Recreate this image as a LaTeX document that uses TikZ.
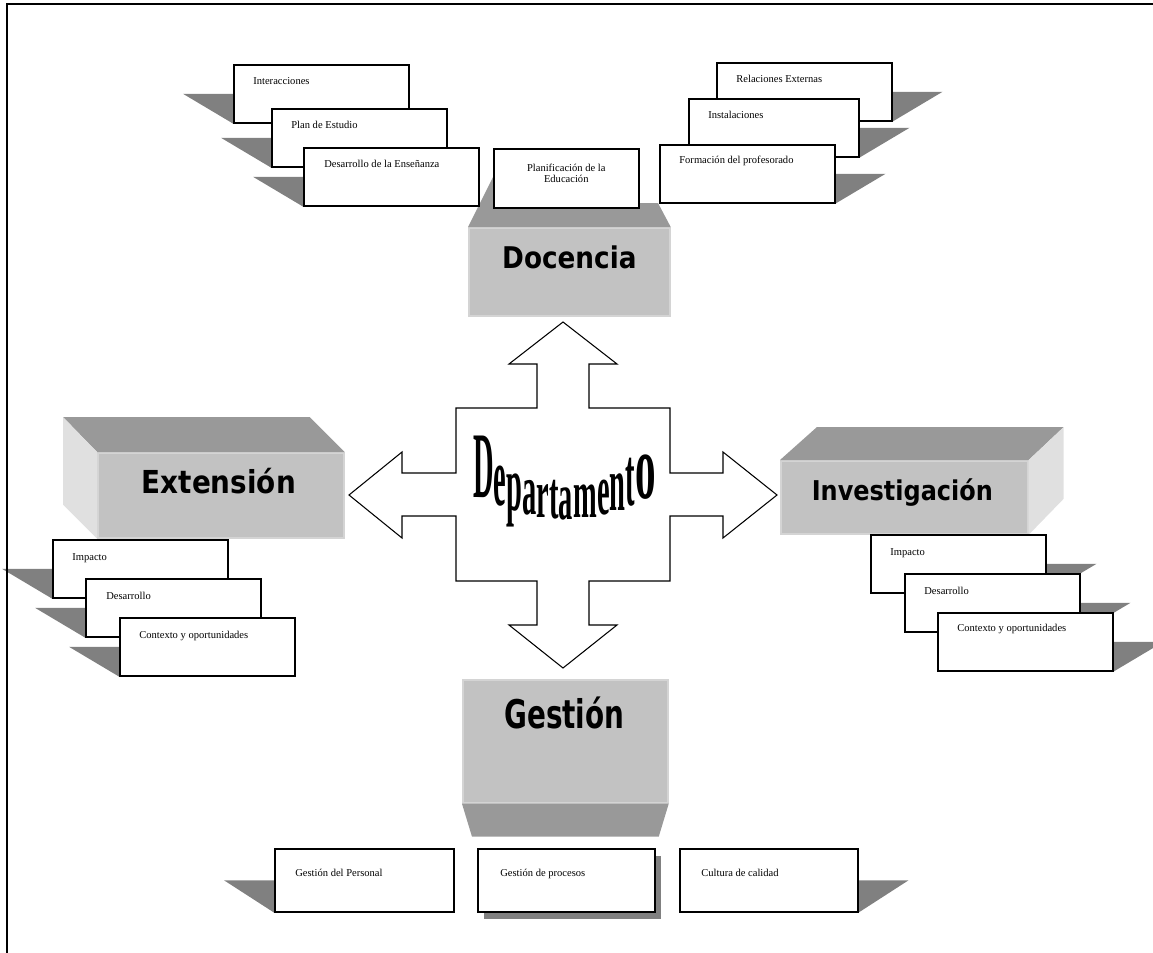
\documentclass[tikz,border=0pt]{standalone}
\usepackage{fontspec}
\usetikzlibrary{calc,backgrounds,shadows}

\newfontfamily\itemfont{Liberation Serif}
\newfontfamily\deptfont{Liberation Serif}
\newfontfamily\blockfont{DejaVu Sans}[FakeStretch=0.88]

\definecolor{facegray}{RGB}{194,194,194}
\definecolor{topgray}{RGB}{153,153,153}
\definecolor{sidegray}{RGB}{224,224,224}
\definecolor{edgegray}{RGB}{212,212,212}
\definecolor{shadegray}{RGB}{128,128,128}

\tikzset{
  item/.style={draw, line width=0.9pt, fill=white, anchor=north west, inner sep=0pt,
    minimum width=3.5cm, minimum height=1.16cm},
  itemtext/.style={anchor=base west, inner sep=0pt, font=\itemfont\fontsize{6}{6.5}\selectfont},
  front/.style={fill=facegray, draw=edgegray, line width=1pt, anchor=north west, inner sep=0pt},
  blocktext/.style={anchor=base, inner sep=0pt},
}

\begin{document}
\begin{tikzpicture}[x=0.02cm, y=-0.02cm]
    \useasboundingbox (0,0) rectangle (1153,953);

    % Docencia block (top face goes back behind the boxes)
    \node[front, minimum width=4.02cm, minimum height=1.76cm] (doc) at (468,227) {};
    \fill[topgray] (doc.north west) -- (480,203) -- (493,177) -- (600,177) -- (600,203)
        -- (658,203) -- (doc.north east) -- cycle;
    \node[blocktext, font=\blockfont\bfseries\fontsize{17}{20}\selectfont] (doc-t) at ($(doc.north)+(0,41)$) {Docencia};

    % Extension block
    \node[front, minimum width=4.92cm, minimum height=1.7cm] (ext) at (97,452) {};
    \fill[topgray] (ext.north west) -- ++(-34,-35) -- ($(ext.north east)+(-35,-35)$) -- (ext.north east) -- cycle;
    \fill[sidegray] (ext.north west) -- ++(-34,-35) -- ($(ext.south west)+(-34,-34)$) -- (ext.south west) -- cycle;
    \node[blocktext, font=\blockfont\bfseries\fontsize{18}{21}\selectfont] (ext-t) at ($(ext.north)+(-2,41)$) {Extensión};

    % Investigacion block
    \node[front, minimum width=4.94cm, minimum height=1.46cm] (inv) at (780,460) {};
    \fill[topgray] (inv.north west) -- ++(37,-33) -- ($(inv.north east)+(35,-33)$) -- (inv.north east) -- cycle;
    \fill[sidegray] (inv.north east) -- ++(35,-33) -- ($(inv.south east)+(35,-36)$) -- (inv.south east) -- cycle;
    \node[blocktext, font=\blockfont\bfseries\fontsize{15.5}{18}\selectfont] (inv-t) at ($(inv.north)+(-2,40)$) {Investigación};

    % Gestion block (bottom face)
    \node[front, minimum width=4.1cm, minimum height=2.46cm] (ges) at (462,679) {};
    \fill[topgray] (ges.south west) -- ++(10,33) -- ($(ges.south east)+(-10,33)$) -- (ges.south east) -- cycle;
    \node[blocktext, yscale=1.25, font=\blockfont\bfseries\fontsize{18}{21}\selectfont] (ges-t) at ($(ges.north)+(-1,49)$) {Gestión};

    % Docencia boxes
    \node[item] (inter) at (233,64) {};
    \node[itemtext] (inter-t) at ($(inter.north west)+(20,21)$) {Interacciones};
    \node[item] (plan) at (271,108) {};
    \node[itemtext] (plan-t) at ($(plan.north west)+(20,21)$) {Plan de Estudio};
    \node[item] (desa) at (303,147) {};
    \node[itemtext] (desa-t) at ($(desa.north west)+(21,21)$) {Desarrollo de la Enseñanza};
    \node[item, minimum width=2.9cm, minimum height=1.18cm] (plani) at (493,148) {};
    \node[itemtext, anchor=center, align=center] (plani-t) at ($(plani.center)+(0,-5)$) {Planificación de la\\Educación};
    \node[item] (relex) at (716,62) {};
    \node[itemtext] (relex-t) at ($(relex.north west)+(20,21)$) {Relaciones Externas};
    \node[item, minimum width=3.4cm] (insta) at (688,98) {};
    \node[itemtext] (insta-t) at ($(insta.north west)+(20,21)$) {Instalaciones};
    \node[item] (forma) at (659,144) {};
    \node[itemtext] (forma-t) at ($(forma.north west)+(20,19)$) {Formación del profesorado};

    % Extension boxes
    \node[item] (eimp) at (52,539) {};
    \node[itemtext] (eimp-t) at ($(eimp.north west)+(20,21)$) {Impacto};
    \node[item] (edes) at (85,578) {};
    \node[itemtext] (edes-t) at ($(edes.north west)+(21,21)$) {Desarrollo};
    \node[item] (ecot) at (119,617) {};
    \node[itemtext] (ecot-t) at ($(ecot.north west)+(20,21)$) {Contexto y oportunidades};

    % Investigacion boxes
    \node[item] (iimp) at (870,534) {};
    \node[itemtext] (iimp-t) at ($(iimp.north west)+(20,21)$) {Impacto};
    \node[item] (ides) at (904,573) {};
    \node[itemtext] (ides-t) at ($(ides.north west)+(20,21)$) {Desarrollo};
    \node[item] (icot) at (937,612) {};
    \node[itemtext] (icot-t) at ($(icot.north west)+(20,19)$) {Contexto y oportunidades};

    % Gestion boxes
    \node[item, minimum width=3.58cm, minimum height=1.26cm] (gper) at (274,848) {};
    \node[itemtext] (gper-t) at ($(gper.north west)+(21,28)$) {Gestión del Personal};
    \node[item, minimum width=3.54cm, minimum height=1.26cm,
          drop shadow={shadow xshift=0.12cm, shadow yshift=-0.14cm, fill=shadegray, opacity=1}] (gpro) at (477,848) {};
    \node[itemtext] (gpro-t) at ($(gpro.north west)+(23,28)$) {Gestión de procesos};
    \node[item, minimum width=3.56cm, minimum height=1.26cm] (gcal) at (679,848) {};
    \node[itemtext] (gcal-t) at ($(gcal.north west)+(22,28)$) {Cultura de calidad};

    % shadows of the boxes
    \begin{scope}[on background layer]
        \foreach \b in {inter,plan,desa,eimp,edes,ecot,gper}
            \fill[shadegray] (\b.west) -- ++(-50,0) -- (\b.south west) -- cycle;
        \foreach \b in {relex,insta,forma,iimp,ides,icot,gcal}
            \fill[shadegray] (\b.east) -- ++(50,0) -- (\b.south east) -- cycle;
    \end{scope}

    % the cross of four arrows
    \coordinate (dept) at (563,494.5);
    \draw[line width=0.6pt, fill=white]
        (563,322) -- (617,364) -- (589,364) -- (589,408) -- (670,408) -- (670,473)
        -- (723,473) -- (723,452) -- (777,495) -- (723,538) -- (723,516) -- (670,516)
        -- (670,581) -- (589,581) -- (589,625) -- (617,625) -- (563,668) -- (509,625)
        -- (537,625) -- (537,581) -- (456,581) -- (456,516) -- (402,516) -- (402,538)
        -- (349,495) -- (402,452) -- (402,473) -- (456,473) -- (456,408) -- (537,408)
        -- (537,364) -- (509,364) -- cycle;

    % Departamento, one letter at a time (letters taller at both ends)
    \foreach \ch/\lx/\by/\sx/\sy [count=\i] in {
        D/473/497.5/0.9/2.97, e/493.6/505.5/0.9/2.66, p/506.3/510.7/0.9/2.46,
        a/522.1/514.9/0.9/2.30, r/536.4/517.5/0.9/2.20, t/549.1/518.6/0.9/2.15,
        a/558.6/519/0.9/2.14, m/572.9/517.7/0.9/2.19, e/596.7/514.4/0.9/2.32,
        n/609.4/510.3/0.9/2.47, t/625.2/505.5/0.9/2.66, o/634.7/498.5/1.3/2.93}
        \node[anchor=base west, inner sep=0pt, xscale=\sx, yscale=\sy,
              font=\deptfont\bfseries\fontsize{18}{20}\selectfont] (dl-\i) at (\lx,\by) {\ch};

    % frame
    \draw[line width=1.2pt] (7,953) -- (7,4) -- (1153,4);
\end{tikzpicture}
\end{document}
